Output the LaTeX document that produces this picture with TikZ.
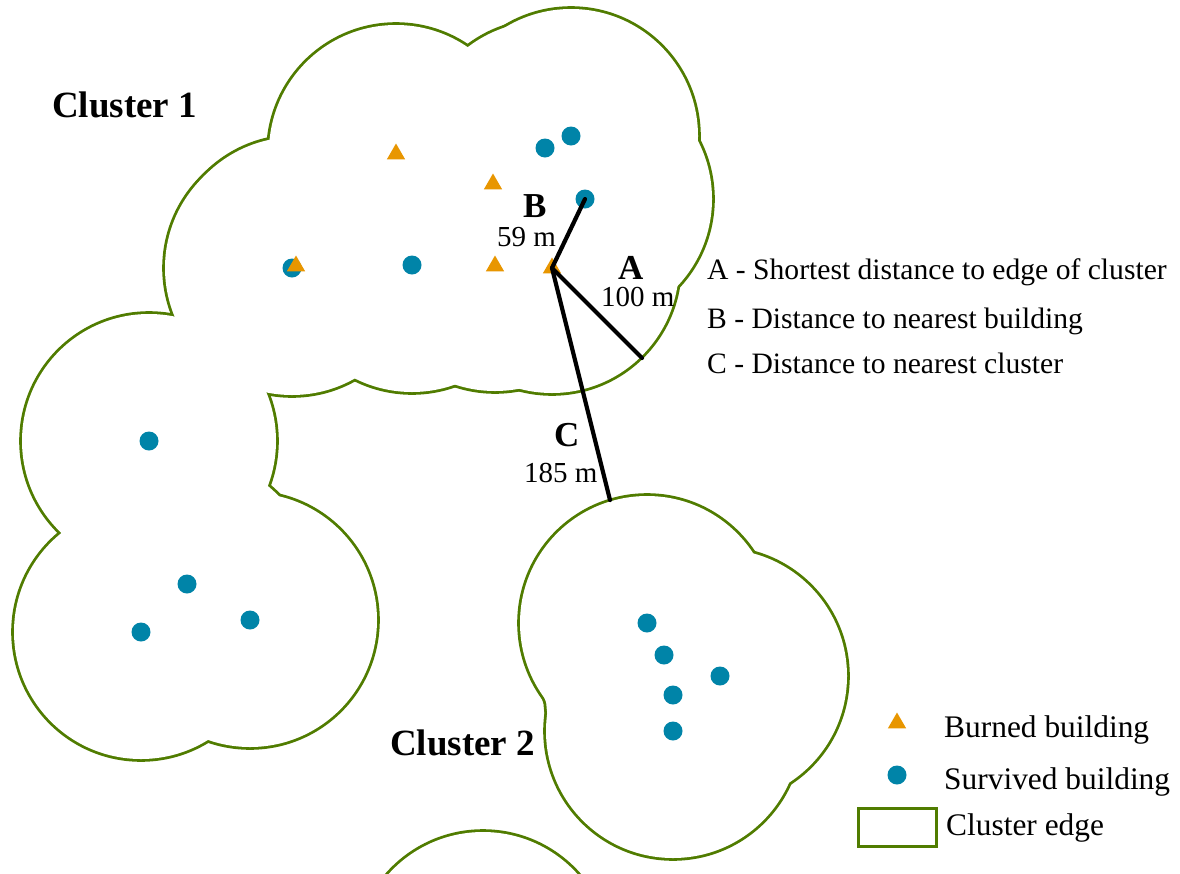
\documentclass[tikz,border=0pt]{standalone}
\usepackage{fontspec}
\setmainfont{Liberation Serif}
\usetikzlibrary{shapes.geometric}
\definecolor{edgegreen}{RGB}{80,124,0}
\definecolor{burnorange}{RGB}{232,150,0}
\definecolor{survteal}{RGB}{0,132,168}
\tikzset{
  burned/.style={regular polygon, regular polygon sides=3, fill=burnorange, minimum size=21pt, inner sep=0pt},
  survived/.style={circle, fill=survteal, minimum size=19pt, inner sep=0pt},
  edgeline/.style={draw=edgegreen, line width=5.6pt},
  measure/.style={line width=4.2pt, black, line cap=round},
  clusterlabel/.style={font=\fontsize{37}{40}\selectfont\bfseries, inner sep=0pt, anchor=base west},
  letterlabel/.style={font=\fontsize{35}{40}\selectfont\bfseries, inner sep=0pt, anchor=base west, text depth=0pt},
  distlabel/.style={font=\fontsize{29}{32}\selectfont, inner sep=0pt, anchor=base west, text height=18pt},
  keytext/.style={font=\fontsize{29.6}{32}\selectfont, inner sep=0pt, anchor=base west},
  legtext/.style={font=\fontsize{31.4}{34}\selectfont, inner sep=0pt, anchor=base west},
}
\begin{document}
\begin{tikzpicture}[x=1pt,y=-1pt]
\useasboundingbox (0,0) rectangle (1180,873);
\clip (0,0) rectangle (1180,873);
% cluster outlines (union of 100 m buffers)
\foreach \x/\y in {396/152,493/182,296/264,495/264,552/266,545/148,571/136,585/199,292/268,412/265,149/441,187/584,141/632,250/620,
                   647/623,664/655,720/676,673/695,673/731, 483/959}
  {\draw[edgeline] (\x,\y) circle (127);}
\foreach \x/\y in {396/152,493/182,296/264,495/264,552/266,545/148,571/136,585/199,292/268,412/265,149/441,187/584,141/632,250/620,
                   647/623,664/655,720/676,673/695,673/731, 483/959}
  {\fill[white] (\x,\y) circle (127);}
% survived buildings
\node[survived] (s1) at (545,148) {};
\node[survived] (s2) at (571,136) {};
\node[survived] (s3) at (585,199) {};
\node[survived] (s4) at (292,268) {};
\node[survived] (s5) at (412,265) {};
\node[survived] (s6) at (149,441) {};
\node[survived] (s7) at (187,584) {};
\node[survived] (s8) at (141,632) {};
\node[survived] (s9) at (250,620) {};
\node[survived] (s10) at (647,623) {};
\node[survived] (s11) at (664,655) {};
\node[survived] (s12) at (720,676) {};
\node[survived] (s13) at (673,695) {};
\node[survived] (s14) at (673,731) {};
% burned buildings
\node[burned] (b1) at (396,154) {};
\node[burned] (b2) at (493,184) {};
\node[burned] (b3) at (296,266) {};
\node[burned] (b4) at (495,266) {};
\node[burned] (b5) at (552,268) {};
% measurement lines
\coordinate (aend) at (642,358);
\coordinate (cend) at (610,500);
\draw[measure] (b5.center) -- (s3.center);
\draw[measure] (b5.center) -- (aend);
\draw[measure] (b5.center) -- (cend);
% labels
\node[clusterlabel] (cl1) at (52,117) {Cluster 1};
\node[clusterlabel] (cl2) at (390,755) {Cluster 2};
\node[letterlabel] (lb) at (523,217) {B};
\node[distlabel] (db) at (497,246) {59 m};
\node[letterlabel] (la) at (618,279) {A};
\node[distlabel] (da) at (601,306) {100 m};
\node[letterlabel] (lc) at (554,446) {C};
\node[distlabel] (dc) at (524,482) {185 m};
% key
\node[keytext] (ka) at (707,279) {A - Shortest distance to edge of cluster};
\node[keytext] (kb) at (707,328) {B - Distance to nearest building};
\node[keytext] (kc) at (707,373) {C - Distance to nearest cluster};
% legend
\node[burned] (legb) at (897,723) {};
\node[survived] (legs) at (897,775) {};
\node[draw=edgegreen, line width=3pt, minimum width=78pt, minimum height=38pt, inner sep=0pt] (legbox) at (897,827) {};
\node[legtext] (lt1) at (944,737) {Burned building};
\node[legtext] (lt2) at (944,789) {Survived building};
\node[legtext] (lt3) at (946,835) {Cluster edge};
\end{tikzpicture}
\end{document}
